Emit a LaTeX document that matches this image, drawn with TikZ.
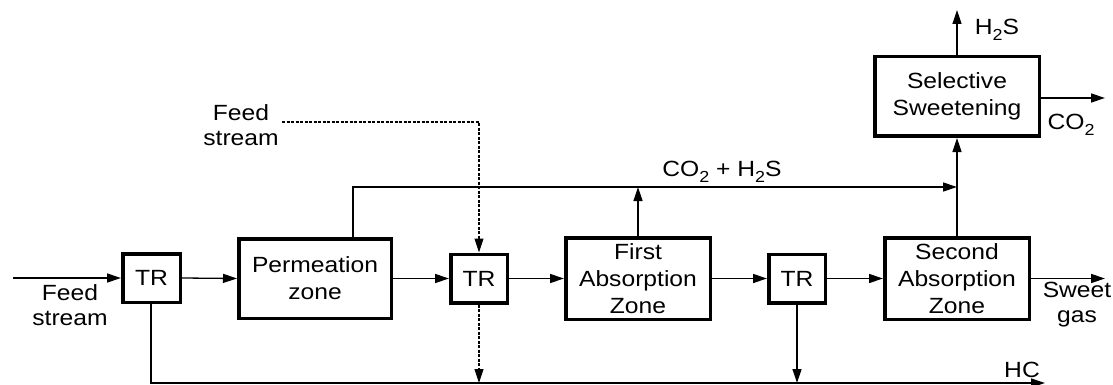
\documentclass[tikz,border=0pt]{standalone}
\usepackage{fontspec}
\setmainfont[FakeStretch=1.12]{Liberation Sans}
\usetikzlibrary{arrows.meta}
\newcommand\mysubtwo[1]{\raisebox{-6.5pt}{\fontsize{16}{16}\selectfont #1}}
\begin{document}
\begin{tikzpicture}[x=1pt,y=-1pt,
  font=\fontsize{22}{27}\selectfont,
  unit/.style={draw, line width=3.5pt, align=center, inner sep=0pt},
  conn/.style={line width=1.3pt, -{Triangle[length=14pt,width=9pt]}},
  dashline/.style={line width=1.1pt, dash pattern=on 3pt off 1.5pt},
  lbl/.style={align=center, inner sep=0pt, font=\fontsize{22}{25}\selectfont}]
\useasboundingbox (0,0) rectangle (1113,385);
% boxes
\node[unit, minimum width=57.5pt, minimum height=48.5pt] (tr1) at (151.5,278) {TR};
\node[unit, minimum width=152.5pt, minimum height=79.5pt] (perm) at (315,278.5) {Permeation\\zone};
\node[unit, minimum width=56.5pt, minimum height=48.5pt] (tr2) at (479,278.5) {TR};
\node[unit, minimum width=144.5pt, minimum height=81.5pt] (first) at (638,278.5) {First\\Absorption\\Zone};
\node[unit, minimum width=56.5pt, minimum height=48.5pt] (tr3) at (797,278.5) {TR};
\node[unit, minimum width=144.5pt, minimum height=81.5pt] (second) at (957,278.5) {Second\\Absorption\\Zone};
\node[unit, minimum width=164.5pt, minimum height=79.5pt] (sel) at (957,96.5) {Selective\\Sweetening};
% coordinates
\coordinate (feedin) at (13,278);
\coordinate (sweet) at (1105,278.5);
\coordinate (h2sout) at (957,10);
\coordinate (co2out) at (1105,98);
\coordinate (permtop) at (353,187);
\coordinate (join) at (957,187);
\coordinate (firsttop) at (638,187);
\coordinate (feed2) at (282,122);
\coordinate (feed2c) at (479,122);
\coordinate (tr2bot) at (479,383);
\coordinate (hcstart) at (151,383);
\coordinate (hcend) at (1045,383);
\coordinate (tr3bot) at (797,383);
% main line
\draw[conn] (feedin) -- (tr1.west);
\draw[conn] (tr1.east) -- (perm.west);
\draw[conn] (perm.east) -- (tr2.west);
\draw[conn] (tr2.east) -- (first.west);
\draw[conn] (first.east) -- (tr3.west);
\draw[conn] (tr3.east) -- (second.west);
\draw[conn] (second.east) -- (sweet);
% acid gas
\draw[conn] (perm.north -| permtop) -- (permtop) -- (join);
\draw[conn] (first.north) -- (firsttop);
\draw[conn] (second.north) -- (sel.south);
\draw[conn] (sel.north) -- (h2sout);
\draw[conn] (sel.east |- co2out) -- (co2out);
% dashed feed
\draw[dashline, -{Triangle[length=14pt,width=9pt]}] (feed2) -- (feed2c) -- (tr2.north);
\draw[dashline, -{Triangle[length=14pt,width=9pt]}] (tr2.south) -- (tr2bot);
% HC
\draw[conn] (tr1.south -| hcstart) -- (hcstart) -- (hcend);
\draw[conn] (tr3.south) -- (tr3bot);
% labels
\node[lbl] (lfeed1) at (70,305) {Feed\\stream};
\node[lbl] (lfeed2) at (241,125) {Feed\\stream};
\node[lbl] (lacid) at (722,172) {CO\mysubtwo{2} + H\mysubtwo{2}S};
\node[lbl] (lh2s) at (997,30) {H\mysubtwo{2}S};
\node[lbl] (lco2) at (1071,125) {CO\mysubtwo{2}};
\node[lbl] (lsweet) at (1077,305) {Sweet\\gas};
\node[lbl] (lhc) at (1022,370) {HC};
\end{tikzpicture}
\end{document}
